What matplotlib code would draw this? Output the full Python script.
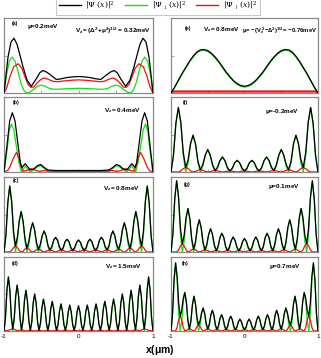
import numpy as np
import matplotlib
matplotlib.use("Agg")
import matplotlib.pyplot as plt
from matplotlib.lines import Line2D
from matplotlib.font_manager import FontProperties

plt.rcParams['font.family'] = ['Liberation Sans', 'DejaVu Sans']
plt.rcParams['mathtext.fontset'] = 'custom'
plt.rcParams['mathtext.rm'] = 'Liberation Sans:bold'
plt.rcParams['mathtext.it'] = 'Liberation Sans:bold'
plt.rcParams['mathtext.bf'] = 'Liberation Sans:bold'

# ---------------- data ----------------
# panel (a)
a_black_x = [-1, -0.978, -0.946, -0.906, -0.866, -0.825, -0.79, -0.745, -0.69, -0.633, -0.566, -0.52, -0.477,
             -0.43, -0.387, -0.298, -0.23, -0.163, -0.08, 0,
             0.08, 0.163, 0.23, 0.298, 0.387, 0.43, 0.477, 0.52, 0.566, 0.633, 0.69, 0.745, 0.79, 0.825, 0.866,
             0.906, 0.946, 0.978, 1]
a_black_y = [0, 0.20, 0.48, 0.68, 0.73, 0.65, 0.52, 0.35, 0.17, 0.09, 0.19, 0.27, 0.30,
             0.28, 0.25, 0.18, 0.19, 0.205, 0.215, 0.22,
             0.215, 0.205, 0.19, 0.18, 0.25, 0.28, 0.30, 0.27, 0.19, 0.09, 0.17, 0.35, 0.52, 0.65, 0.73,
             0.68, 0.48, 0.20, 0]
a_green_x = [-1, -0.97, -0.93, -0.89, -0.85, -0.81, -0.77, -0.73, -0.70, -0.66, -0.60, -0.55, -0.50, -0.45,
             -0.40, -0.34, -0.28, -0.20, -0.10, 0,
             0.10, 0.20, 0.28, 0.34, 0.40, 0.45, 0.50, 0.55, 0.60, 0.66, 0.70, 0.73, 0.77, 0.81, 0.85, 0.89,
             0.93, 0.97, 1]
a_green_y = [0, 0.22, 0.42, 0.48, 0.42, 0.28, 0.12, 0.03, 0.0, 0.01, 0.05, 0.09, 0.105, 0.09,
             0.065, 0.05, 0.05, 0.055, 0.06, 0.062,
             0.06, 0.055, 0.05, 0.05, 0.065, 0.09, 0.105, 0.09, 0.05, 0.01, 0.0, 0.03, 0.12, 0.28, 0.42, 0.48,
             0.42, 0.22, 0]
a_red_x = [-1, -0.96, -0.92, -0.87, -0.81, -0.76, -0.72, -0.68, -0.64, -0.60, -0.55, -0.50, -0.46, -0.40,
           -0.34, -0.28, -0.20, -0.10, 0,
           0.10, 0.20, 0.28, 0.34, 0.40, 0.46, 0.50, 0.55, 0.60, 0.64, 0.68, 0.72, 0.76, 0.81, 0.87, 0.92,
           0.96, 1]
a_red_y = [0, 0.08, 0.22, 0.35, 0.39, 0.33, 0.22, 0.12, 0.075, 0.08, 0.14, 0.185, 0.20, 0.18,
           0.155, 0.15, 0.16, 0.17, 0.175,
           0.17, 0.16, 0.15, 0.155, 0.18, 0.20, 0.185, 0.14, 0.08, 0.075, 0.12, 0.22, 0.33, 0.39, 0.35, 0.22,
           0.08, 0]

# panel (b)
b_black_x = [-1, -0.96, -0.924, -0.888, -0.852, -0.81, -0.78, -0.758, -0.735, -0.714, -0.69, -0.647, -0.60,
             -0.55, -0.508, -0.46, -0.41, -0.30, -0.15, 0,
             0.15, 0.30, 0.41, 0.46, 0.508, 0.55, 0.60, 0.647, 0.69, 0.714, 0.735, 0.758, 0.78, 0.81, 0.852,
             0.888, 0.924, 0.96, 1]
b_black_y = [0, 0.35, 0.68, 0.79, 0.68, 0.35, 0.12, 0.06, 0.09, 0.11, 0.08, 0.027, 0.04,
             0.085, 0.10, 0.06, 0.027, 0.02, 0.02, 0.02,
             0.02, 0.02, 0.027, 0.06, 0.10, 0.085, 0.04, 0.027, 0.08, 0.11, 0.09, 0.06, 0.12, 0.35, 0.68,
             0.79, 0.68, 0.35, 0]
b_green_x = [-1, -0.96, -0.93, -0.90, -0.87, -0.84, -0.80, -0.767, -0.74, -0.714, -0.68, -0.647, -0.60,
             -0.55, -0.508, -0.46, -0.41, -0.30, 0,
             0.30, 0.41, 0.46, 0.508, 0.55, 0.60, 0.647, 0.68, 0.714, 0.74, 0.767, 0.80, 0.84, 0.87, 0.90,
             0.93, 0.96, 1]
b_green_y = [0, 0.28, 0.55, 0.64, 0.57, 0.38, 0.13, 0.0, 0.04, 0.08, 0.04, 0.0, 0.03,
             0.07, 0.085, 0.045, 0.005, 0.005, 0.005,
             0.005, 0.005, 0.045, 0.085, 0.07, 0.03, 0.0, 0.04, 0.08, 0.04, 0.0, 0.13, 0.38, 0.57, 0.64,
             0.55, 0.28, 0]
b_red_x = [-1, -0.95, -0.92, -0.88, -0.834, -0.80, -0.77, -0.745, -0.70, -0.63, -0.57, -0.52, -0.45, -0.35, 0,
           0.35, 0.45, 0.52, 0.57, 0.63, 0.70, 0.745, 0.77, 0.80, 0.834, 0.88, 0.92, 0.95, 1]
b_red_y = [0, 0.02, 0.07, 0.17, 0.26, 0.19, 0.07, 0.01, 0.02, 0.045, 0.02, 0.01, 0.02, 0.01, 0.01,
           0.01, 0.02, 0.01, 0.02, 0.045, 0.02, 0.01, 0.07, 0.19, 0.26, 0.17, 0.07, 0.02, 0]

# panel (c)  (uniform sampling, 6 samples per lobe)
c_black_y = [0, 0.22, 0.66, 0.88, 0.68, 0.28,
             0.08, 0.20, 0.42, 0.54, 0.41, 0.18,
             0.05, 0.14, 0.30, 0.39, 0.30, 0.13,
             0.035, 0.10, 0.22, 0.28, 0.22, 0.09,
             0.03, 0.07, 0.16, 0.195, 0.16, 0.07,
             0.025, 0.06, 0.14, 0.17, 0.14, 0.06,
             0.025, 0.06, 0.13, 0.16, 0.13, 0.06,
             0.025, 0.06, 0.14, 0.17, 0.14, 0.06,
             0.025, 0.07, 0.16, 0.195, 0.16, 0.07,
             0.03, 0.09, 0.22, 0.28, 0.22, 0.10,
             0.035, 0.13, 0.30, 0.39, 0.30, 0.14,
             0.05, 0.18, 0.41, 0.54, 0.42, 0.20,
             0.08, 0.28, 0.68, 0.88, 0.66, 0.22,
             0]
c_green_y = [0, 0.22, 0.66, 0.88, 0.66, 0.22,
             0, 0.14, 0.40, 0.54, 0.40, 0.14,
             0, 0.10, 0.29, 0.39, 0.29, 0.10,
             0, 0.07, 0.21, 0.28, 0.21, 0.07,
             0, 0.05, 0.15, 0.195, 0.15, 0.05,
             0, 0.04, 0.13, 0.17, 0.13, 0.04,
             0, 0.04, 0.12, 0.16, 0.12, 0.04,
             0, 0.04, 0.13, 0.17, 0.13, 0.04,
             0, 0.05, 0.15, 0.195, 0.15, 0.05,
             0, 0.07, 0.21, 0.28, 0.21, 0.07,
             0, 0.10, 0.29, 0.39, 0.29, 0.10,
             0, 0.14, 0.40, 0.54, 0.40, 0.14,
             0, 0.22, 0.66, 0.88, 0.66, 0.22,
             0]
c_red_y = [0, 0, 0, 0, 0.02, 0.06,
           0.08, 0.06, 0.02, 0, 0.01, 0.04,
           0.05, 0.04, 0.01, 0, 0.01, 0.03,
           0.035, 0.03, 0.01, 0, 0.01, 0.02,
           0.03, 0.02, 0.01, 0, 0.01, 0.02,
           0.025, 0.02, 0.01, 0, 0.01, 0.02,
           0.025, 0.02, 0.01, 0, 0.01, 0.02,
           0.025, 0.02, 0.01, 0, 0.01, 0.02,
           0.025, 0.02, 0.01, 0, 0.01, 0.02,
           0.03, 0.02, 0.01, 0, 0.01, 0.03,
           0.035, 0.03, 0.01, 0, 0.01, 0.04,
           0.05, 0.04, 0.01, 0, 0.02, 0.06,
           0.08, 0.06, 0.02, 0, 0, 0,
           0]

# panel (d)
d_green_y = [0, 0.18, 0.55, 0.73, 0.55, 0.18,
             0, 0.16, 0.47, 0.62, 0.47, 0.16,
             0, 0.14, 0.41, 0.55, 0.41, 0.14,
             0, 0.12, 0.38, 0.50, 0.38, 0.12,
             0, 0.11, 0.32, 0.43, 0.32, 0.11,
             0, 0.10, 0.30, 0.40, 0.30, 0.10,
             0, 0.09, 0.27, 0.365, 0.27, 0.09,
             0, 0.09, 0.26, 0.35, 0.26, 0.09,
             0, 0.085, 0.255, 0.34, 0.255, 0.085,
             0, 0.09, 0.26, 0.35, 0.26, 0.09,
             0, 0.09, 0.27, 0.365, 0.27, 0.09,
             0, 0.10, 0.30, 0.40, 0.30, 0.10,
             0, 0.11, 0.32, 0.43, 0.32, 0.11,
             0, 0.12, 0.38, 0.50, 0.38, 0.12,
             0, 0.14, 0.41, 0.55, 0.41, 0.14,
             0, 0.16, 0.47, 0.62, 0.47, 0.16,
             0, 0.18, 0.55, 0.73, 0.55, 0.18,
             0]
d_black_y = [0, 0.18, 0.55, 0.73, 0.56, 0.20,
             0.03, 0.17, 0.47, 0.62, 0.47, 0.17,
             0.015, 0.14, 0.41, 0.55, 0.41, 0.14,
             0.01, 0.12, 0.38, 0.50, 0.38, 0.12,
             0.01, 0.11, 0.32, 0.43, 0.32, 0.11,
             0.01, 0.10, 0.30, 0.40, 0.30, 0.10,
             0.01, 0.09, 0.27, 0.365, 0.27, 0.09,
             0.01, 0.09, 0.26, 0.35, 0.26, 0.09,
             0.01, 0.085, 0.255, 0.34, 0.255, 0.085,
             0.01, 0.09, 0.26, 0.35, 0.26, 0.09,
             0.01, 0.09, 0.27, 0.365, 0.27, 0.09,
             0.01, 0.10, 0.30, 0.40, 0.30, 0.10,
             0.01, 0.11, 0.32, 0.43, 0.32, 0.11,
             0.01, 0.12, 0.38, 0.50, 0.38, 0.12,
             0.01, 0.14, 0.41, 0.55, 0.41, 0.14,
             0.015, 0.17, 0.47, 0.62, 0.47, 0.17,
             0.03, 0.20, 0.56, 0.73, 0.55, 0.18,
             0]
d_red_y = [0, 0.01, 0.03, 0.005, 0.015, 0, 0.01, 0, 0.01, 0, 0.01, 0, 0.01, 0, 0.01, 0, 0.01, 0,
           0.01, 0, 0.01, 0, 0.01, 0, 0.01, 0, 0.01, 0, 0.01, 0, 0.015, 0.005, 0.03, 0.01, 0]

# panel (e)
e_black_y = [0, 0.08, 0.17, 0.26, 0.34, 0.42, 0.49, 0.545, 0.575, 0.58, 0.565, 0.53, 0.48, 0.42, 0.35,
             0.28, 0.22, 0.165, 0.125, 0.10, 0.09,
             0.10, 0.125, 0.165, 0.22, 0.28, 0.35, 0.42, 0.48, 0.53, 0.565, 0.58, 0.575, 0.545, 0.49,
             0.42, 0.34, 0.26, 0.17, 0.08, 0]
e_green_y = [0, 0.07, 0.16, 0.25, 0.33, 0.41, 0.478, 0.533, 0.563, 0.568, 0.553, 0.518, 0.468, 0.408,
             0.338, 0.268, 0.208, 0.153, 0.113, 0.088, 0.078,
             0.088, 0.113, 0.153, 0.208, 0.268, 0.338, 0.408, 0.468, 0.518, 0.553, 0.568, 0.563, 0.533,
             0.478, 0.41, 0.33, 0.25, 0.16, 0.07, 0]
e_red_x = [-1, -0.97, -0.5, 0, 0.5, 0.97, 1]
e_red_y = [0, 0.02, 0.02, 0.02, 0.02, 0.02, 0]

# panel (f)
f_black_y = [0, 0.22, 0.65, 0.86, 0.665, 0.265,
             0.06, 0.165, 0.385, 0.49, 0.378, 0.142,
             0.03, 0.102, 0.228, 0.30, 0.225, 0.095,
             0.02, 0.065, 0.155, 0.20, 0.154, 0.061,
             0.015, 0.051, 0.124, 0.155, 0.124, 0.051,
             0.015, 0.051, 0.124, 0.155, 0.124, 0.051,
             0.015, 0.061, 0.154, 0.20, 0.155, 0.065,
             0.02, 0.095, 0.225, 0.30, 0.228, 0.102,
             0.03, 0.142, 0.378, 0.49, 0.385, 0.165,
             0.06, 0.265, 0.665, 0.86, 0.65, 0.22,
             0]
f_green_y = [0, 0.22, 0.65, 0.86, 0.65, 0.22,
             0, 0.12, 0.37, 0.49, 0.37, 0.12,
             0, 0.08, 0.22, 0.30, 0.22, 0.08,
             0, 0.05, 0.15, 0.20, 0.15, 0.05,
             0, 0.04, 0.12, 0.155, 0.12, 0.04,
             0, 0.04, 0.12, 0.155, 0.12, 0.04,
             0, 0.05, 0.15, 0.20, 0.15, 0.05,
             0, 0.08, 0.22, 0.30, 0.22, 0.08,
             0, 0.12, 0.37, 0.49, 0.37, 0.12,
             0, 0.22, 0.65, 0.86, 0.65, 0.22,
             0]
f_red_y = [0, 0, 0, 0, 0.015, 0.045,
           0.06, 0.045, 0.015, 0, 0.008, 0.022,
           0.03, 0.022, 0.008, 0, 0.005, 0.015,
           0.02, 0.015, 0.005, 0, 0.004, 0.011,
           0.015, 0.011, 0.004, 0, 0.004, 0.011,
           0.015, 0.011, 0.004, 0, 0.004, 0.011,
           0.015, 0.011, 0.004, 0, 0.005, 0.015,
           0.02, 0.015, 0.005, 0, 0.008, 0.022,
           0.03, 0.022, 0.008, 0, 0.015, 0.045,
           0.06, 0.045, 0.015, 0, 0, 0,
           0]

# panel (g)
g_black_y = [0, 0.24, 0.71, 0.95, 0.738, 0.322,
             0.11, 0.227, 0.463, 0.58, 0.445, 0.175,
             0.04, 0.14, 0.33, 0.43, 0.328, 0.132,
             0.03, 0.102, 0.238, 0.31, 0.235, 0.095,
             0.02, 0.075, 0.195, 0.25, 0.195, 0.075,
             0.02, 0.065, 0.155, 0.20, 0.155, 0.065,
             0.02, 0.06, 0.14, 0.18, 0.14, 0.06,
             0.02, 0.065, 0.155, 0.20, 0.155, 0.065,
             0.02, 0.075, 0.195, 0.25, 0.195, 0.075,
             0.02, 0.095, 0.235, 0.31, 0.238, 0.102,
             0.03, 0.132, 0.328, 0.43, 0.33, 0.14,
             0.04, 0.175, 0.445, 0.58, 0.463, 0.227,
             0.11, 0.322, 0.738, 0.95, 0.71, 0.24,
             0]
g_green_y = [0, 0.24, 0.71, 0.95, 0.71, 0.24,
             0, 0.145, 0.435, 0.58, 0.435, 0.145,
             0, 0.11, 0.32, 0.43, 0.32, 0.11,
             0, 0.08, 0.23, 0.31, 0.23, 0.08,
             0, 0.06, 0.19, 0.25, 0.19, 0.06,
             0, 0.05, 0.15, 0.20, 0.15, 0.05,
             0, 0.045, 0.135, 0.18, 0.135, 0.045,
             0, 0.05, 0.15, 0.20, 0.15, 0.05,
             0, 0.06, 0.19, 0.25, 0.19, 0.06,
             0, 0.08, 0.23, 0.31, 0.23, 0.08,
             0, 0.11, 0.32, 0.43, 0.32, 0.11,
             0, 0.145, 0.435, 0.58, 0.435, 0.145,
             0, 0.24, 0.71, 0.95, 0.71, 0.24,
             0]
g_red_y = [0, 0, 0, 0, 0.028, 0.082,
           0.11, 0.082, 0.028, 0, 0.01, 0.03,
           0.04, 0.03, 0.01, 0, 0.008, 0.022,
           0.03, 0.022, 0.008, 0, 0.005, 0.015,
           0.02, 0.015, 0.005, 0, 0.005, 0.015,
           0.02, 0.015, 0.005, 0, 0.005, 0.015,
           0.02, 0.015, 0.005, 0, 0.005, 0.015,
           0.02, 0.015, 0.005, 0, 0.005, 0.015,
           0.02, 0.015, 0.005, 0, 0.005, 0.015,
           0.02, 0.015, 0.005, 0, 0.008, 0.022,
           0.03, 0.022, 0.008, 0, 0.01, 0.03,
           0.04, 0.03, 0.01, 0, 0.028, 0.082,
           0.11, 0.082, 0.028, 0, 0, 0,
           0]

# panel (h)
h_black_y = [0, 0.23, 0.69, 0.92, 0.74, 0.38,
             0.20, 0.28, 0.44, 0.52, 0.398, 0.152,
             0.03, 0.142, 0.358, 0.47, 0.37, 0.18,
             0.08, 0.14, 0.25, 0.31, 0.238, 0.102,
             0.03, 0.092, 0.218, 0.28, 0.215, 0.085,
             0.02, 0.07, 0.17, 0.22, 0.17, 0.07,
             0.02, 0.065, 0.155, 0.20, 0.155, 0.065,
             0.02, 0.055, 0.125, 0.16, 0.125, 0.055,
             0.02, 0.055, 0.125, 0.16, 0.125, 0.055,
             0.02, 0.065, 0.155, 0.20, 0.155, 0.065,
             0.02, 0.07, 0.17, 0.22, 0.17, 0.07,
             0.02, 0.085, 0.215, 0.28, 0.218, 0.092,
             0.03, 0.102, 0.238, 0.31, 0.25, 0.14,
             0.08, 0.18, 0.37, 0.47, 0.358, 0.142,
             0.03, 0.152, 0.398, 0.52, 0.44, 0.28,
             0.20, 0.38, 0.74, 0.92, 0.69, 0.23,
             0]
h_green_y = [0, 0.23, 0.69, 0.92, 0.69, 0.23,
             0, 0.13, 0.39, 0.52, 0.39, 0.13,
             0, 0.12, 0.35, 0.47, 0.35, 0.12,
             0, 0.08, 0.23, 0.31, 0.23, 0.08,
             0, 0.07, 0.21, 0.28, 0.21, 0.07,
             0, 0.055, 0.165, 0.22, 0.165, 0.055,
             0, 0.05, 0.15, 0.20, 0.15, 0.05,
             0, 0.04, 0.12, 0.16, 0.12, 0.04,
             0, 0.04, 0.12, 0.16, 0.12, 0.04,
             0, 0.05, 0.15, 0.20, 0.15, 0.05,
             0, 0.055, 0.165, 0.22, 0.165, 0.055,
             0, 0.07, 0.21, 0.28, 0.21, 0.07,
             0, 0.08, 0.23, 0.31, 0.23, 0.08,
             0, 0.12, 0.35, 0.47, 0.35, 0.12,
             0, 0.13, 0.39, 0.52, 0.39, 0.13,
             0, 0.23, 0.69, 0.92, 0.69, 0.23,
             0]
h_red_y = [0, 0, 0, 0, 0.05, 0.15,
           0.20, 0.15, 0.05, 0, 0.008, 0.022,
           0.03, 0.022, 0.008, 0, 0.02, 0.06,
           0.08, 0.06, 0.02, 0, 0.008, 0.022,
           0.03, 0.022, 0.008, 0, 0.005, 0.015,
           0.02, 0.015, 0.005, 0, 0.005, 0.015,
           0.02, 0.015, 0.005, 0, 0.005, 0.015,
           0.02, 0.015, 0.005, 0, 0.005, 0.015,
           0.02, 0.015, 0.005, 0, 0.005, 0.015,
           0.02, 0.015, 0.005, 0, 0.005, 0.015,
           0.02, 0.015, 0.005, 0, 0.005, 0.015,
           0.02, 0.015, 0.005, 0, 0.008, 0.022,
           0.03, 0.022, 0.008, 0, 0.02, 0.06,
           0.08, 0.06, 0.02, 0, 0.008, 0.022,
           0.03, 0.022, 0.008, 0, 0.05, 0.15,
           0.20, 0.15, 0.05, 0, 0, 0,
           0]

legend_labels = [r'$|\Psi\ (x)|^2$', r'$|\Psi_\downarrow(x)|^2$', r'$|\Psi_\uparrow(x)|^2$']
panel_tags = ['(a)', '(b)', '(c)', '(d)', '(e)', '(f)', '(g)', '(h)']
x_tick_values = [-1, 0, 1]
x_tick_labels = ['-1', '0', '1']

BLACK, GREEN, RED = '#000000', '#11e011', '#f01010'

# ---------------- figure ----------------
W, H = 321, 358
fig = plt.figure(figsize=(W / 100, H / 100), dpi=100)

cols = [(4, 153), (171, 318)]
rows = [(18, 93), (97, 172), (177, 252), (257, 331)]

def make_ax(ci, ri):
    l, r = cols[ci]
    t, b = rows[ri]
    ax = fig.add_axes([l / W, 1 - b / H, (r - l) / W, (b - t) / H])
    ax.set_xlim(-1, 1)
    ax.set_ylim(0, 1)
    for s in ax.spines.values():
        s.set_color('#8a8a8a')
        s.set_linewidth(0.9)
    ax.set_xticks([-1, -0.5, 0, 0.5, 1])
    ax.set_yticks([0.5])
    ax.tick_params(direction='in', length=2, width=0.5, color='#8a8a8a',
                   labelleft=False, labelbottom=False, pad=2, labelsize=4.5)
    return ax

def draw(ax, xb, yb, xg, yg, xr, yr, red_lw=0.9):
    ax.plot(xg, yg, color=GREEN, lw=0.9, zorder=2)
    ax.plot(xr, yr, color=RED, lw=red_lw, zorder=3)
    ax.plot(xb, yb, color=BLACK, lw=0.9, zorder=4)

def grid(y):
    return np.linspace(-1, 1, len(y))

TXT = dict(fontsize=4.6, fontweight='bold', va='top')
TAG = dict(fontsize=3.8, fontweight='bold', va='top', ha='left')

# (a)
ax = make_ax(0, 0)
draw(ax, a_black_x, a_black_y, a_green_x, a_green_y, a_red_x, a_red_y)
ax.text(0.054, 0.965, panel_tags[0], transform=ax.transAxes, **TAG)
ax.text(0.155, 0.95, r'$\mu$=0.2meV', transform=ax.transAxes, ha='left', **TXT)
ax.text(0.985, 0.90, r'$\mathrm{V_z=(\Delta^2\!+\!\mu^2)^{1/2}=\,0.32meV}$', transform=ax.transAxes,
        ha='right', **TXT)
# (b)
ax = make_ax(0, 1)
draw(ax, b_black_x, b_black_y, b_green_x, b_green_y, b_red_x, b_red_y)
ax.text(0.06, 0.965, panel_tags[1], transform=ax.transAxes, **TAG)
ax.text(0.92, 0.88, r'$\mathrm{V_z=0.4meV}$', transform=ax.transAxes, ha='right', **TXT)
# (c)
ax = make_ax(0, 2)
draw(ax, grid(c_black_y), c_black_y, grid(c_green_y), c_green_y, grid(c_red_y), c_red_y)
ax.text(0.06, 0.99, panel_tags[2], transform=ax.transAxes, **TAG)
ax.text(0.915, 0.91, r'$\mathrm{V_z=0.8meV}$', transform=ax.transAxes, ha='right', **TXT)
# (d)
ax = make_ax(0, 3)
draw(ax, grid(d_black_y), d_black_y, grid(d_green_y), d_green_y, grid(d_red_y), d_red_y)
ax.text(0.054, 0.95, panel_tags[3], transform=ax.transAxes, **TAG)
ax.text(0.925, 0.93, r'$\mathrm{V_z=1.5meV}$', transform=ax.transAxes, ha='right', **TXT)
ax.set_xticks(x_tick_values)
ax.set_xticklabels(x_tick_labels)
ax.tick_params(labelbottom=True)
# (e)
ax = make_ax(1, 0)
draw(ax, grid(e_black_y), e_black_y, grid(e_green_y), e_green_y, e_red_x, e_red_y, red_lw=1.6)
ax.text(0.095, 0.89, panel_tags[4], transform=ax.transAxes, **TAG)
ax.text(0.215, 0.90, r'$\mathrm{V_z=0.8meV}$', transform=ax.transAxes, ha='left', **TXT)
ax.text(0.995, 0.90, r'$\mathrm{\mu\!=\!-(V_z^{\,2}\!-\!\Delta^2)^{1/2}\!=\!-0.76meV}$',
        transform=ax.transAxes, ha='right', fontsize=4.2, fontweight='bold', va='top')
# (f)
ax = make_ax(1, 1)
draw(ax, grid(f_black_y), f_black_y, grid(f_green_y), f_green_y, grid(f_red_y), f_red_y)
ax.text(0.08, 0.965, panel_tags[5], transform=ax.transAxes, **TAG)
ax.text(0.64, 0.86, r'$\mu$=-0.2meV', transform=ax.transAxes, ha='left', **TXT)
# (g)
ax = make_ax(1, 2)
draw(ax, grid(g_black_y), g_black_y, grid(g_green_y), g_green_y, grid(g_red_y), g_red_y)
ax.text(0.09, 0.93, panel_tags[6], transform=ax.transAxes, **TAG)
ax.text(0.66, 0.93, r'$\mu$=0.1meV', transform=ax.transAxes, ha='left', **TXT)
# (h)
ax = make_ax(1, 3)
draw(ax, grid(h_black_y), h_black_y, grid(h_green_y), h_green_y, grid(h_red_y), h_red_y)
ax.text(0.075, 0.95, panel_tags[7], transform=ax.transAxes, **TAG)
ax.text(0.67, 0.93, r'$\mu$=0.7meV', transform=ax.transAxes, ha='left', **TXT)
ax.set_xticks(x_tick_values)
ax.set_xticklabels(x_tick_labels)
ax.tick_params(labelbottom=True)

# legend
handles = [Line2D([], [], color=BLACK, lw=1.0), Line2D([], [], color=GREEN, lw=1.0),
           Line2D([], [], color=RED, lw=1.0)]
leg = fig.legend(handles, legend_labels, ncol=3, loc='upper center', bbox_to_anchor=(158 / W, 1.008),
                 prop=FontProperties(family='Liberation Serif', size=5.6, math_fontfamily='dejavuserif'),
                 frameon=True, fancybox=False, edgecolor='#bbbbbb', handlelength=2.8, handletextpad=0.6,
                 columnspacing=1.3, borderpad=0.35, borderaxespad=0.0)
leg.get_frame().set_linewidth(0.8)

fig.text(160 / W, 1 - 350 / H, r'x($\mathrm{\mu}$m)', ha='center', va='center', fontsize=7.5,
         fontweight='bold')

fig.savefig('out.png', dpi=100)
